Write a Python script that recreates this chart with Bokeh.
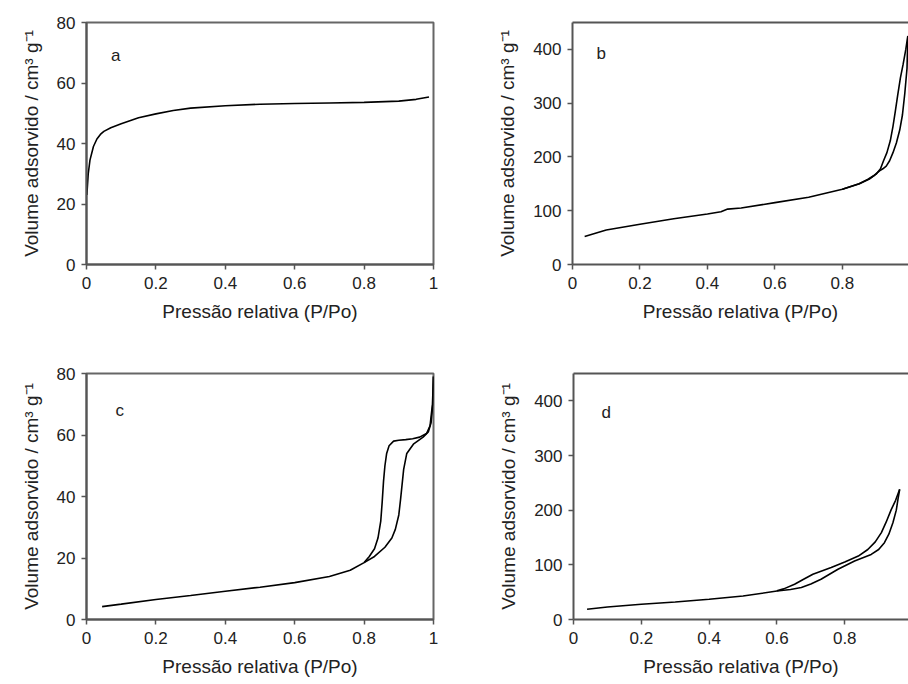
from bokeh.plotting import figure
from bokeh.layouts import column, row
from bokeh.models import LinearAxis, FixedTicker, Range1d
from bokeh.core.properties import value
from bokeh.embed import file_html
from bokeh.resources import INLINE

# ---------------- data ----------------
x_ticks = [0, 0.2, 0.4, 0.6, 0.8, 1]
x_tick_labels = ["0", "0.2", "0.4", "0.6", "0.8", "1"]
y_ticks_small = [0, 20, 40, 60, 80]
y_ticks_large = [0, 100, 200, 300, 400]

a_x = [0.001, 0.005, 0.01, 0.02, 0.03, 0.04, 0.05, 0.07, 0.1, 0.15, 0.2, 0.25,
       0.3, 0.4, 0.5, 0.6, 0.7, 0.8, 0.9, 0.95, 0.987]
a_y = [23, 30, 34.5, 39, 41.5, 43, 44, 45.2, 46.5, 48.5, 49.8, 50.9,
       51.7, 52.5, 53, 53.2, 53.4, 53.6, 54, 54.6, 55.4]

b_ads_x = [0.036, 0.1, 0.2, 0.3, 0.4, 0.44, 0.46, 0.5, 0.6, 0.7, 0.8, 0.85,
           0.875, 0.895, 0.91, 0.92, 0.93, 0.94, 0.95, 0.96, 0.97, 0.978,
           0.985, 0.9916, 0.994]
b_ads_y = [52, 64, 75, 85, 94, 98, 103, 105, 115, 125, 140, 150,
           158, 166, 174, 178, 183, 193, 208, 226, 250, 278,
           318, 365, 425]
b_des_x = [0.994, 0.988, 0.98, 0.972, 0.964, 0.957, 0.95, 0.942, 0.932,
           0.922, 0.913, 0.9, 0.88, 0.85, 0.8]
b_des_y = [425, 400, 372, 347, 315, 285, 257, 230, 208,
           193, 178, 168, 159, 150, 140]

c_ads_x = [0.045, 0.1, 0.2, 0.3, 0.4, 0.5, 0.6, 0.7, 0.76, 0.8, 0.83, 0.86, 0.88,
           0.89, 0.9, 0.905, 0.914, 0.923, 0.942, 0.97, 0.985, 0.993, 0.998, 1.0]
c_ads_y = [4.2, 5.0, 6.5, 7.8, 9.2, 10.5, 12, 14, 16, 18.5, 20.5, 23.5, 26.5,
           29.3, 34, 39, 48.8, 54, 57, 59.3, 61, 64, 70, 79]
c_des_x = [1.0, 0.997, 0.99, 0.98, 0.96, 0.94, 0.92, 0.9, 0.885, 0.872, 0.865,
           0.86, 0.856, 0.852, 0.848, 0.84, 0.83, 0.815, 0.8]
c_des_y = [79, 70, 63, 60.5, 59.3, 58.8, 58.5, 58.3, 58, 56.5, 54,
           50, 45, 38, 32, 26.5, 23, 20.5, 18.5]

d_ads_x = [0.04, 0.1, 0.2, 0.3, 0.4, 0.5, 0.6, 0.64, 0.672, 0.7, 0.73, 0.78,
           0.829, 0.878, 0.9, 0.917, 0.93, 0.942, 0.952, 0.957, 0.962]
d_ads_y = [18.8, 23, 28, 32, 37, 43, 52, 55, 58.4, 65, 73.6, 92,
           107, 119, 128, 140.6, 156, 177, 200, 220, 238]
d_des_x = [0.962, 0.95, 0.937, 0.922, 0.908, 0.89, 0.868, 0.84, 0.8, 0.76,
           0.706, 0.68, 0.652, 0.62, 0.6]
d_des_y = [238, 218, 201, 178, 159, 142, 128, 116, 105, 95,
           82.7, 74, 64.5, 56, 52.4]

x_title = "Pressão relativa (P/Po)"
y_title = "Volume adsorvido / cm³ g⁻¹"

FONT = "Liberation Sans"
AXIS_COLOR = "#555555"
TEXT_COLOR = "#222222"


def make_panel(letter, letter_pos, x_end, y_end, y_ticks, series,
               borders, boxed):
    left, right, top, bottom = borders
    p = figure(width=454, height=342, output_backend="svg",
               toolbar_location=None,
               x_range=Range1d(0, x_end), y_range=Range1d(0, y_end),
               min_border_left=left, min_border_right=right,
               min_border_top=top, min_border_bottom=bottom)
    p.grid.visible = False
    p.background_fill_color = "white"
    p.border_fill_color = "white"

    xax = p.below[0]
    yax = p.left[0]
    xax.ticker = FixedTicker(ticks=x_ticks)
    xax.major_label_overrides = {t: s for t, s in zip(x_ticks, x_tick_labels)}
    yax.ticker = FixedTicker(ticks=y_ticks)
    for ax in (xax, yax):
        ax.axis_line_color = AXIS_COLOR
        ax.axis_line_width = 2
        ax.major_tick_line_color = AXIS_COLOR
        ax.major_tick_line_width = 1.5
        ax.major_tick_out = 5
        ax.major_tick_in = 0
        ax.minor_tick_line_color = None
        ax.major_label_text_font = FONT
        ax.major_label_text_font_size = "17px"
        ax.major_label_text_color = TEXT_COLOR
        ax.axis_label_text_font = FONT
        ax.axis_label_text_font_size = "19px"
        ax.axis_label_text_font_style = "normal"
        ax.axis_label_text_color = TEXT_COLOR
    xax.axis_label = x_title
    yax.axis_label = y_title
    xax.major_label_standoff = 7
    xax.axis_label_standoff = 9
    yax.major_label_standoff = 6
    yax.axis_label_standoff = 12

    if boxed:
        p.outline_line_color = AXIS_COLOR
        p.outline_line_width = 2
        p.outline_line_alpha = 0.9
    else:
        p.outline_line_color = None
        top_axis = LinearAxis(ticker=FixedTicker(ticks=[]))
        top_axis.axis_line_color = AXIS_COLOR
        top_axis.axis_line_width = 2
        top_axis.major_tick_line_color = None
        top_axis.minor_tick_line_color = None
        top_axis.major_label_text_font_size = "0px"
        top_axis.major_label_standoff = 0
        p.add_layout(top_axis, "above")

    for xs, ys in series:
        p.line(xs, ys, line_color="black", line_width=1.6)

    p.text(x=[letter_pos[0]], y=[letter_pos[1]], text=[letter],
           text_font=value(FONT), text_font_size="17px",
           text_color=TEXT_COLOR, text_align="center",
           text_baseline="middle")
    return p


pa = make_panel("a", (0.0845, 69.1), 1.0, 80, y_ticks_small,
                [(a_x, a_y)], (86, 21, 22, 75), True)
pb = make_panel("b", (0.085, 393), 0.996, 450, y_ticks_large,
                [(b_ads_x, b_ads_y), (b_des_x, b_des_y)], (118, 0, 20, 78), False)
pc = make_panel("c", (0.096, 67.9), 1.0, 80, y_ticks_small,
                [(c_ads_x, c_ads_y), (c_des_x, c_des_y)], (86, 21, 31, 65), True)
pd = make_panel("d", (0.0964, 379), 0.988, 450, y_ticks_large,
                [(d_ads_x, d_ads_y), (d_des_x, d_des_y)], (119, 0, 31, 65), False)

layout = column(row(pa, pb, spacing=0), row(pc, pd, spacing=0), spacing=0)

open("out.html", "w").write(file_html(layout, INLINE))
